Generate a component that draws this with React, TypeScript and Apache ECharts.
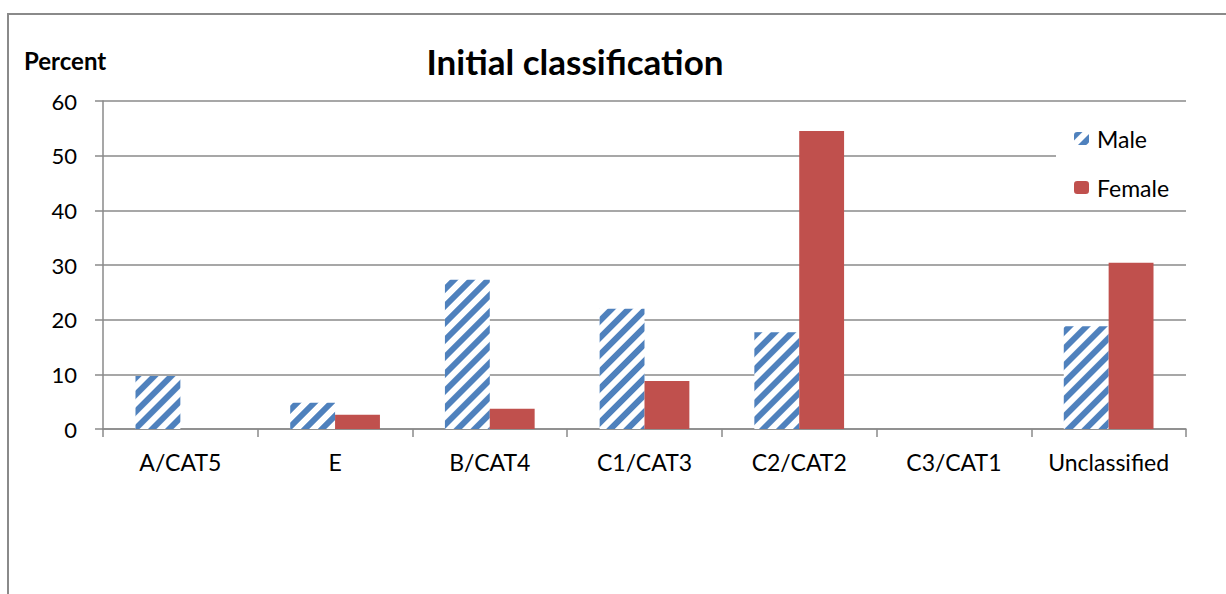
import React, { useEffect, useRef } from "react";
import * as echarts from "echarts";

const categories = ["A/CAT5", "E", "B/CAT4", "C1/CAT3", "C2/CAT2", "C3/CAT1", "Unclassified"];
const maleValues = [9.7, 4.8, 27.3, 22.0, 17.7, 0, 18.8];
const femaleValues = [0, 2.6, 3.7, 8.8, 54.5, 0, 30.4];
const yTicks = [0, 10, 20, 30, 40, 50, 60];

const FONT = "Lato, 'Open Sans', sans-serif";
const GRAY = "#8a8a8a";

export default function App() {
  const ref = useRef<HTMLDivElement>(null);
  useEffect(() => {
    if (!ref.current) return;
    const chart = echarts.init(ref.current, null, { renderer: "svg" });
    chart.setOption({
      animation: false,
      backgroundColor: "#fff",
      textStyle: { fontFamily: FONT },
      graphic: [
        {
          type: "rect",
          shape: { x: 8, y: 14, width: 1300, height: 700 },
          style: { fill: "none", stroke: GRAY, lineWidth: 2 },
          silent: true,
          z: -1,
        },
        {
          type: "text",
          x: 24,
          y: 60,
          style: {
            text: "Percent",
            font: `bold 24px ${FONT}`,
            fill: "#000",
            verticalAlign: "middle",
            align: "left",
          },
        },
      ],
      title: {
        text: "Initial classification",
        left: 570,
        textAlign: "center",
        top: 38,
        textStyle: { fontFamily: FONT, fontWeight: "bold", fontSize: 35, color: "#000" },
      },
      legend: {
        orient: "vertical",
        left: 1056,
        top: 121,
        itemWidth: 15,
        itemHeight: 13,
        itemGap: 26,
        padding: [6, 40, 6, 18],
        backgroundColor: "#fff",
        textStyle: {
          fontFamily: FONT,
          fontSize: 23,
          lineHeight: 20,
          color: "#000",
          padding: [0, 0, 0, 3],
        },
        data: ["Male", "Female"],
      },
      grid: { left: 103, right: 40, top: 101, bottom: 165 },
      xAxis: {
        type: "category",
        data: categories,
        axisLine: { lineStyle: { color: GRAY, width: 1.5 } },
        axisTick: { show: true, length: 8, interval: 0, lineStyle: { color: GRAY, width: 1.5 } },
        axisLabel: { fontFamily: FONT, fontSize: 23, color: "#000", margin: 21, interval: 0 },
      },
      yAxis: {
        type: "value",
        min: 0,
        max: 60,
        interval: 10,
        axisLine: { show: true, lineStyle: { color: GRAY, width: 1.5 } },
        axisTick: { show: true, length: 8, lineStyle: { color: GRAY, width: 1.5 } },
        axisLabel: {
          fontFamily: FONT,
          fontSize: 22,
          color: "#000",
          margin: 26,
          formatter: (v: number) => (yTicks.includes(v) ? String(v) : ""),
        },
        splitLine: { lineStyle: { color: GRAY, width: 1.5 } },
      },
      series: [
        {
          name: "Male",
          type: "bar",
          data: maleValues,
          barGap: "0%",
          barCategoryGap: "42%",
          itemStyle: {
            color: "#ffffff",
            decal: {
              symbol: "rect",
              symbolSize: 1,
              color: "#4f81bd",
              dashArrayX: [1, 0],
              dashArrayY: [6, 6],
              rotation: -Math.PI / 4,
            },
          },
        },
        {
          name: "Female",
          type: "bar",
          data: femaleValues,
          barGap: "0%",
          barCategoryGap: "42%",
          itemStyle: { color: "#c0504d" },
        },
      ],
    });
    return () => chart.dispose();
  }, []);
  return (
    <div
      ref={ref}
      style={{ position: "fixed", left: 0, top: 0, width: 1226, height: 594 }}
    />
  );
}
